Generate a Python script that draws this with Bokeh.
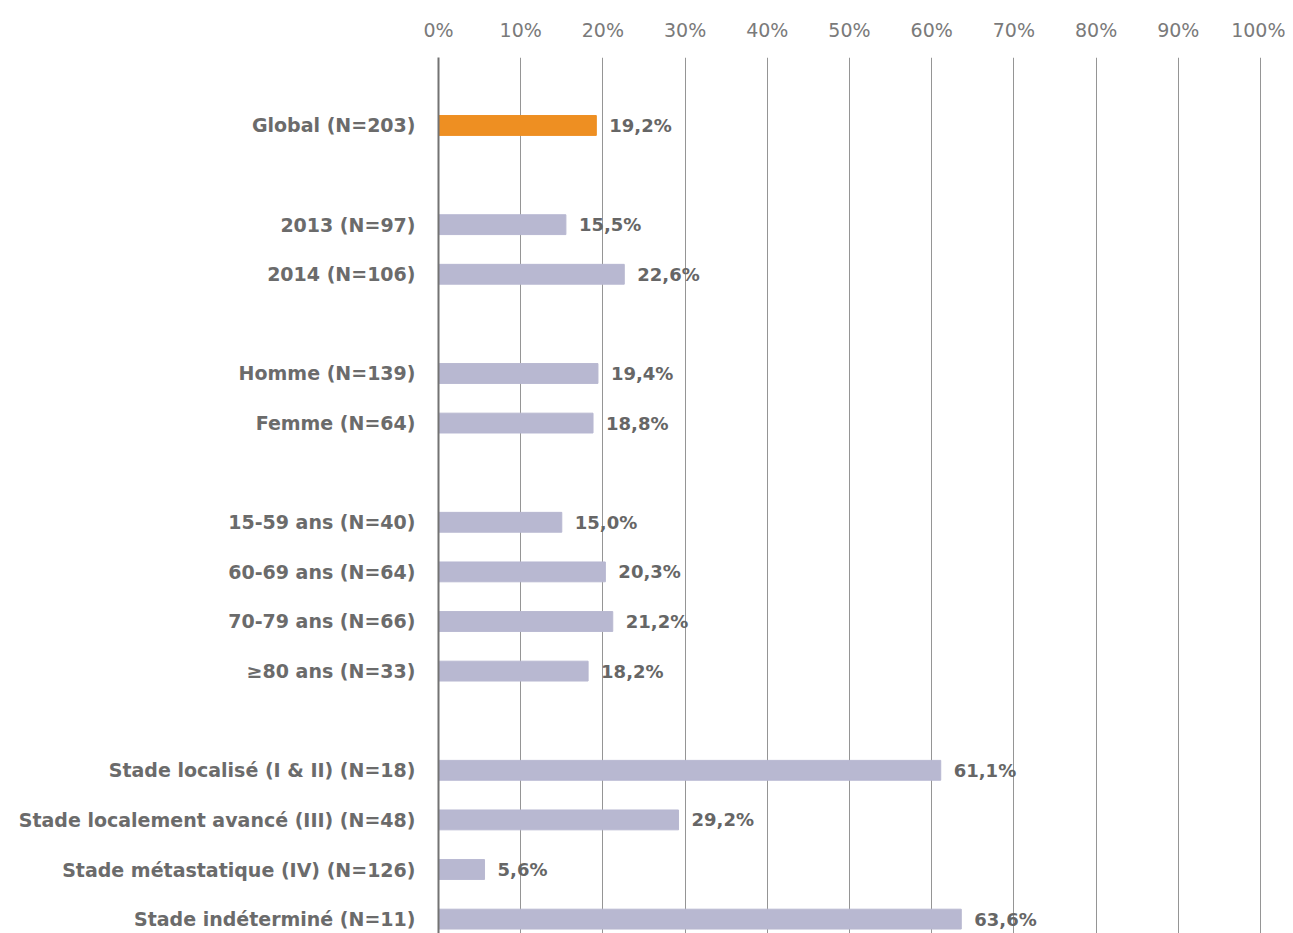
from bokeh.plotting import figure
from bokeh.models import ColumnDataSource, FixedTicker, Range1d
from bokeh.core.properties import value
from bokeh.embed import file_html
from bokeh.resources import INLINE

categories = ["Global (N=203)", "2013 (N=97)", "2014 (N=106)", "Homme (N=139)", "Femme (N=64)",
              "15-59 ans (N=40)", "60-69 ans (N=64)", "70-79 ans (N=66)", "≥80 ans (N=33)",
              "Stade localisé (I & II) (N=18)", "Stade localement avancé (III) (N=48)",
              "Stade métastatique (IV) (N=126)", "Stade indéterminé (N=11)"]
values = [19.2, 15.5, 22.6, 19.4, 18.8, 15.0, 20.3, 21.2, 18.2, 61.1, 29.2, 5.6, 63.6]
slots = [0, 2, 3, 5, 6, 8, 9, 10, 11, 13, 14, 15, 16]
colors = ["#EE8F22"] + ["#B8B8D1"] * 12
x_ticks = [0, 10, 20, 30, 40, 50, 60, 70, 80, 90, 100]

labels = [f"{v:.1f}".replace(".", ",") + "%" for v in values]
src = ColumnDataSource(dict(y=slots, v=values, c=colors, lab=labels))

p = figure(width=1285, height=933, output_backend="svg", toolbar_location=None,
           x_axis_location="above",
           x_range=Range1d(0, 100.49), y_range=Range1d(16.29, -1.37))
p.min_border = 0
p.min_border_left = 438
p.min_border_top = 57
p.min_border_right = 21
p.min_border_bottom = 0
p.outline_line_color = None

p.hbar(y="y", left=0, right="v", height=0.40, color="c", source=src)
p.text(x="v", y="y", text="lab", source=src, x_offset=13, text_align="left",
       text_baseline="middle", text_font=value("DejaVu Sans"), text_font_style="bold",
       text_font_size="18px", text_color="#666666")

xa = p.xaxis[0]
xa.ticker = FixedTicker(ticks=x_ticks)
xa.major_label_overrides = {t: f"{t}%" for t in x_ticks}
xa.axis_line_color = None
xa.major_tick_line_color = None
xa.minor_tick_line_color = None
xa.major_tick_out = 0
xa.major_label_standoff = 17
xa.major_label_text_font = "DejaVu Sans"
xa.major_label_text_font_size = "19px"
xa.major_label_text_color = "#7a7a7a"

ya = p.yaxis[0]
ya.ticker = FixedTicker(ticks=slots)
ya.major_label_overrides = {s: c for s, c in zip(slots, categories)}
ya.axis_line_color = "#737373"
ya.axis_line_width = 2
ya.major_tick_line_color = None
ya.minor_tick_line_color = None
ya.major_tick_out = 0
ya.major_label_standoff = 23
ya.major_label_text_font = "DejaVu Sans"
ya.major_label_text_font_style = "bold"
ya.major_label_text_font_size = "19px"
ya.major_label_text_color = "#6b6b6b"

p.xgrid.ticker = FixedTicker(ticks=x_ticks)
p.xgrid.grid_line_color = "#959595"
p.xgrid.grid_line_width = 1
p.ygrid.grid_line_color = None

open("out.html", "w").write(file_html(p, INLINE))
